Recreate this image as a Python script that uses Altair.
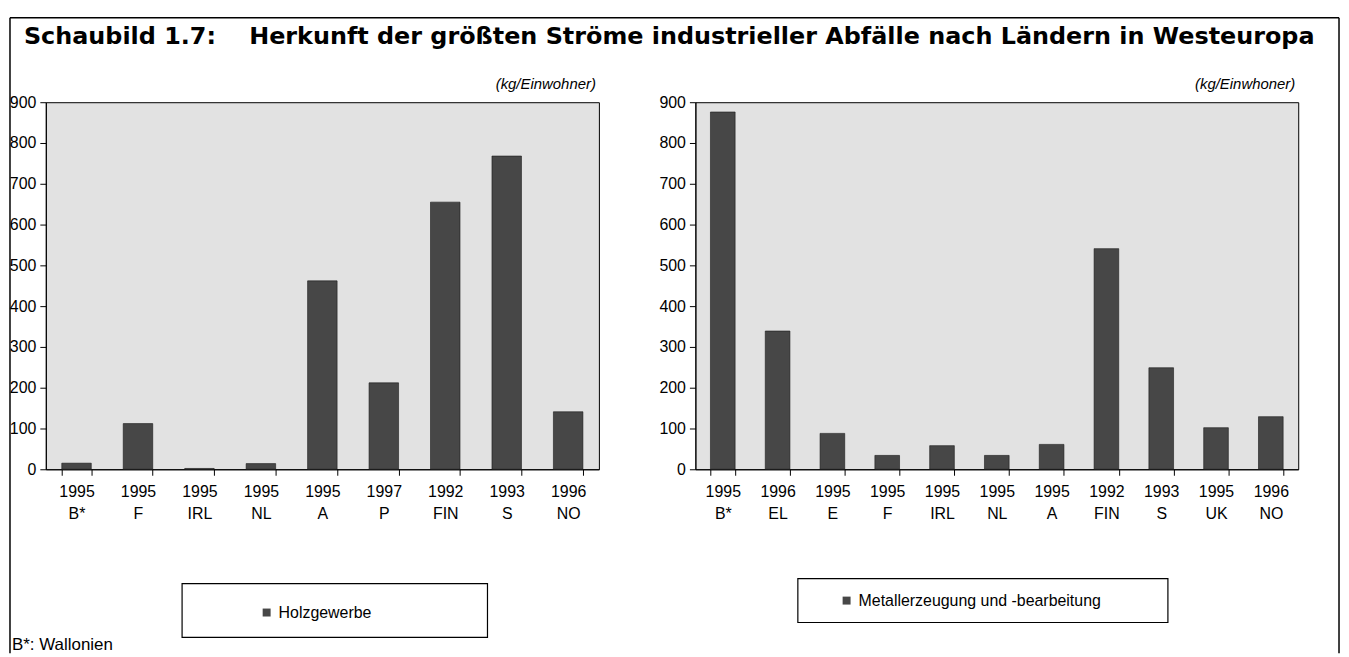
import altair as alt
import pandas as pd

# ---- data ----
left_years = ["1995", "1995", "1995", "1995", "1995", "1997", "1992", "1993", "1996"]
left_countries = ["B*", "F", "IRL", "NL", "A", "P", "FIN", "S", "NO"]
left_values = [15, 112, 2, 14, 462, 212, 655, 768, 141]
left_series = "Holzgewerbe"

right_years = ["1995", "1996", "1995", "1995", "1995", "1995", "1995", "1992", "1993", "1995", "1996"]
right_countries = ["B*", "EL", "E", "F", "IRL", "NL", "A", "FIN", "S", "UK", "NO"]
right_values = [876, 339, 88, 34, 58, 34, 61, 541, 249, 102, 129]
right_series = "Metallerzeugung und -bearbeitung"

y_ticks = [0, 100, 200, 300, 400, 500, 600, 700, 800, 900]

title_text = "Schaubild 1.7:\u00a0\u00a0\u00a0\u00a0Herkunft der größten Ströme industrieller Abfälle nach Ländern in Westeuropa"
left_unit = "(kg/Einwohner)"
right_unit = "(kg/Einwhoner)"
footnote = "B*: Wallonien"

FONT = "Liberation Sans"
BAR = "#474747"
H = 369
LW = 556
RW = 606


def panel(years, countries, values, series, width, pad_inner, unit, legend_xy, box):
    keys = [f"{y}|{c}" for y, c in zip(years, countries)]
    df = pd.DataFrame({"key": keys, "value": values, "series": [series] * len(keys)})
    bars = alt.Chart(df).mark_bar(stroke="#1a1a1a", strokeWidth=0.6).encode(
        x=alt.X(
            "key:N",
            sort=keys,
            scale=alt.Scale(paddingInner=pad_inner, paddingOuter=pad_inner / 2),
            axis=alt.Axis(
                title=None,
                labelAngle=0,
                labelExpr="isValid(datum.value) ? split(datum.value, '|') : ''",
                tickBand="extent",
                tickSize=6,
                labelPadding=8,
                labelLineHeight=22,
                labelFontSize=16,
                labelFont=FONT,
                labelColor="black",
                domainColor="black",
                tickColor="black",
            ),
        ),
        y=alt.Y(
            "value:Q",
            scale=alt.Scale(domain=[0, 900], nice=False),
            axis=alt.Axis(
                title=None,
                values=y_ticks,
                grid=False,
                tickSize=6,
                labelPadding=4,
                labelFontSize=16,
                labelFont=FONT,
                labelColor="black",
                domainColor="black",
                tickColor="black",
            ),
        ),
        color=alt.Color(
            "series:N",
            scale=alt.Scale(domain=[series], range=[BAR]),
            legend=alt.Legend(
                title=None,
                orient="none",
                legendX=legend_xy[0],
                legendY=legend_xy[1],
                symbolType="square",
                symbolSize=64,
                symbolStrokeWidth=0,
                labelFontSize=16,
                labelFont=FONT,
                labelColor="black",
                labelOffset=4,
                labelLimit=0,
                padding=0,
            ),
        ),
    )
    unit_txt = alt.Chart(pd.DataFrame({"t": [unit]})).mark_text(
        align="right", baseline="middle", font=FONT, fontSize=15, fontStyle="italic", color="black"
    ).encode(x=alt.value(width - 3), y=alt.value(-18), text="t:N")
    box_rect = alt.Chart(pd.DataFrame({"t": [series]})).mark_rect(
        fill="white", stroke="black", strokeWidth=1.2
    ).encode(x=alt.value(box[0]), x2=alt.value(box[1]), y=alt.value(box[2]), y2=alt.value(box[3]))
    return [box_rect, bars, unit_txt]


# left plot origin at page (44, 99); right plot origin at page (697, 99)
left_layers = panel(left_years, left_countries, left_values, left_series, LW, 0.52,
                    left_unit, (214, 505), (137, 444, 484, 538))
right_layers = panel(right_years, right_countries, right_values, right_series, RW, 0.55,
                     right_unit, (144, 493), (103, 475, 479, 523))

deco = pd.DataFrame({"t": [title_text]})
title = alt.Chart(deco).mark_text(
    align="left", baseline="middle", font="DejaVu Sans", fontSize=24, fontWeight="bold", color="black"
).encode(x=alt.value(-22), y=alt.value(-66), text="t:N")
foot = alt.Chart(pd.DataFrame({"t": [footnote]})).mark_text(
    align="left", baseline="alphabetic", font=FONT, fontSize=17, color="black"
).encode(x=alt.value(-34), y=alt.value(551), text="t:N")
frame_top = alt.Chart(deco).mark_rule(color="black", strokeWidth=1.5).encode(
    x=alt.value(-36), x2=alt.value(1300), y=alt.value(-85))
frame_left = alt.Chart(deco).mark_rule(color="black", strokeWidth=1.5).encode(
    x=alt.value(-36), y=alt.value(-85), y2=alt.value(554))
frame_right = alt.Chart(deco).mark_rule(color="black", strokeWidth=1.5).encode(
    x=alt.value(1300), y=alt.value(-85), y2=alt.value(554))

left = alt.layer(*left_layers, title, foot, frame_top, frame_left, frame_right).properties(width=LW, height=H)
right = alt.layer(*right_layers).properties(width=RW, height=H)

chart = (
    alt.hconcat(left, right, spacing=97, bounds="flush")
    .resolve_scale(color="independent", x="independent", y="independent")
    .resolve_legend(color="independent")
    .properties(padding={"left": 0, "top": 6, "right": 0, "bottom": 0}, background="white")
    .configure_view(stroke="black", strokeWidth=1, fill="#e2e2e2")
)

chart.save("out.html", embed_options={"renderer": "svg", "actions": False})
